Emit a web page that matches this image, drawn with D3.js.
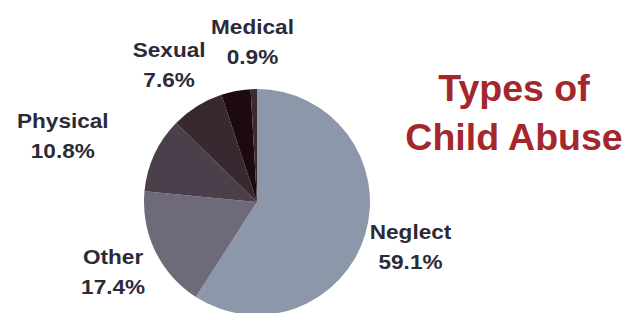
<!DOCTYPE html>
<html>
<head>
<meta charset="utf-8">
<script src="https://cdn.jsdelivr.net/npm/d3@7"></script>
<style>
  body { margin: 0; background: #fff; }
  svg { display: block; }
</style>
</head>
<body>
<svg id="chart" width="640" height="313"></svg>
<script>
// slices clockwise from 12 o'clock; the dark unlabeled wedge is the remainder
const categories = ["Neglect", "Other", "Physical", "Sexual", "", "Medical"];
const values = [59.1, 17.4, 10.8, 7.6, 4.2, 0.9];
const colors = ["#8d97aa", "#6e6a7a", "#4b3f4c", "#382830", "#1d0910", "#3b2a2f"];
const titleLines = ["Types of", "Child Abuse"];

const svg = d3.select("#chart");
const cx = 257, cy = 202, radius = 113, labelR = 160;

const data = categories.map((name, i) => ({ name, value: values[i], color: colors[i] }));

const pie = d3.pie().value(d => d.value).sort(null);
const arc = d3.arc().innerRadius(0).outerRadius(radius);
const arcs = pie(data);

const g = svg.append("g").attr("transform", `translate(${cx},${cy})`);

g.selectAll("path")
  .data(arcs)
  .enter()
  .append("path")
  .attr("d", arc)
  .attr("fill", d => d.data.color);

// labels sit out along each slice's mid angle
const nudge = { Physical: [-49, 1], Sexual: [-3, -1] };
const labels = g.selectAll("g.lbl")
  .data(arcs.filter(d => d.data.name))
  .enter()
  .append("g")
  .attr("class", "lbl")
  .attr("transform", d => {
    const a = (d.startAngle + d.endAngle) / 2;
    const n = nudge[d.data.name] || [0, 0];
    const x = Math.sin(a) * labelR + n[0];
    const y = -Math.cos(a) * labelR + n[1];
    return `translate(${x},${y}) scale(1.13,1)`;
  });

labels.append("text")
  .attr("y", -8)
  .text(d => d.data.name);
labels.append("text")
  .attr("y", 22)
  .text(d => d.data.value.toFixed(1) + "%");

labels.selectAll("text")
  .attr("text-anchor", "middle")
  .attr("font-family", "'Liberation Sans', Arial, sans-serif")
  .attr("font-weight", "bold")
  .attr("font-size", 20)
  .attr("fill", "#2b2b37");

svg.append("g")
  .selectAll("text")
  .data(titleLines)
  .enter()
  .append("text")
  .attr("x", 514)
  .attr("y", (d, i) => 101 + i * 49)
  .attr("text-anchor", "middle")
  .attr("font-family", "'Liberation Sans', Arial, sans-serif")
  .attr("font-weight", "bold")
  .attr("font-size", 37.5)
  .attr("fill", "#a3272b")
  .text(d => d);
</script>
</body>
</html>
